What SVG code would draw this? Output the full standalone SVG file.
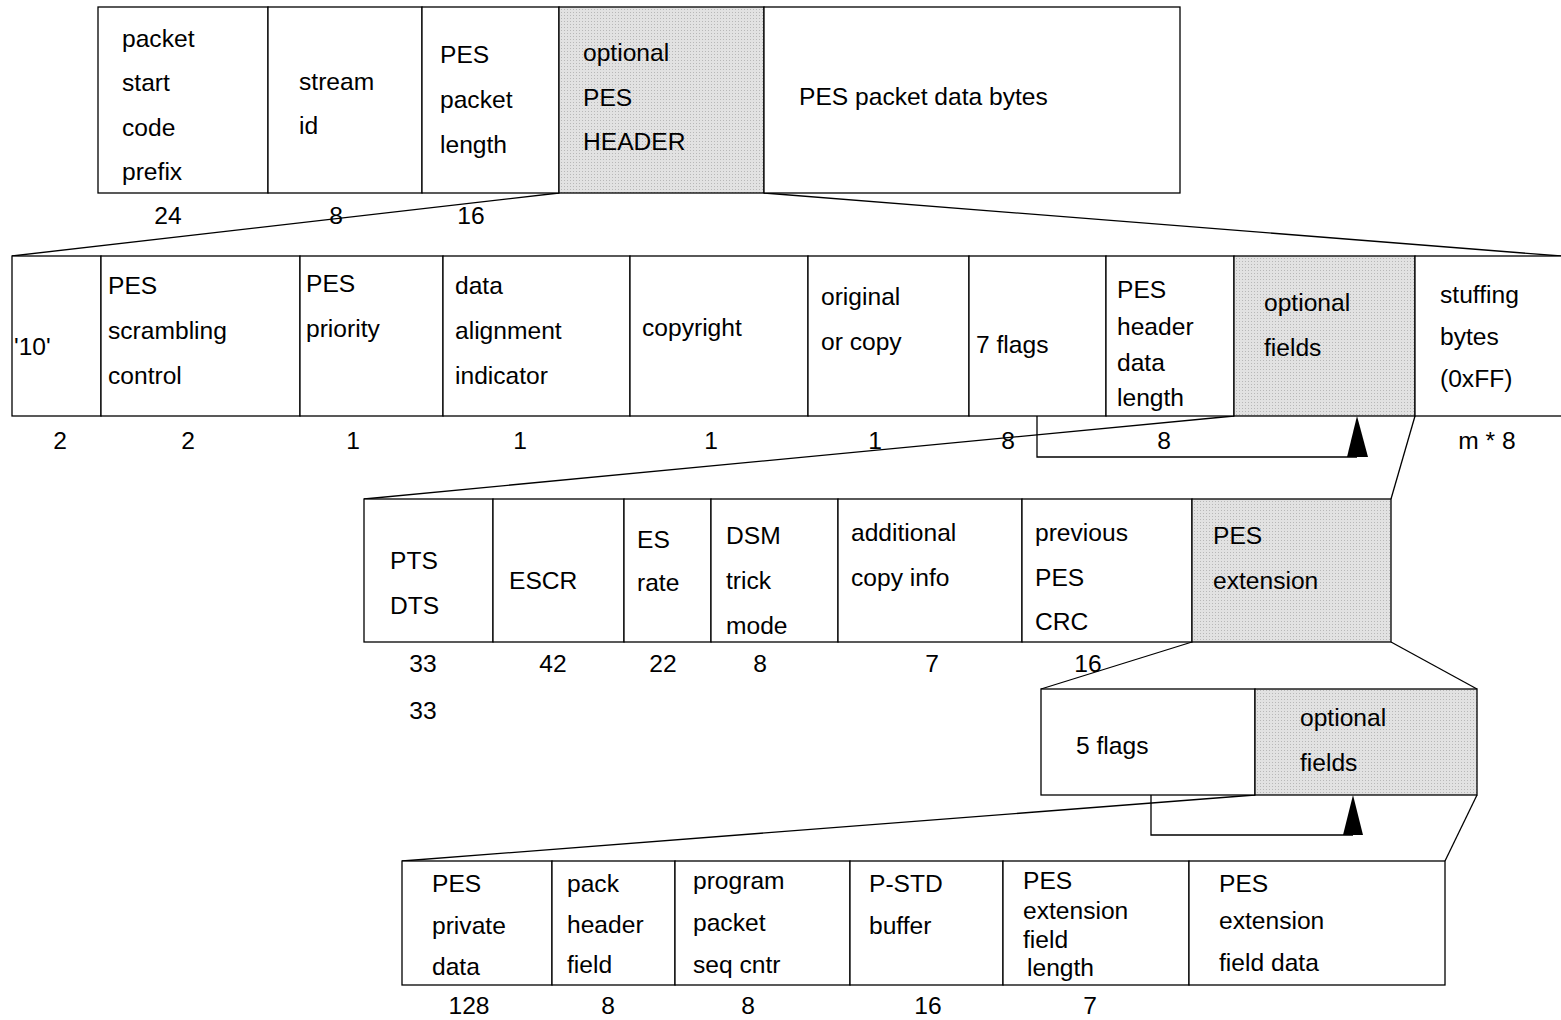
<svg xmlns="http://www.w3.org/2000/svg" width="1561" height="1020" viewBox="0 0 1561 1020">
<defs>
<pattern id="dots" width="3" height="3" patternUnits="userSpaceOnUse">
<rect width="3" height="3" fill="#e2e2e2"/>
<rect width="1" height="1" fill="#b8b8b8"/>
</pattern>
<style>
.c{fill:#fff;stroke:#000;stroke-width:1.3}
.s{fill:url(#dots);stroke:#000;stroke-width:1.3}
text{font-family:"Liberation Sans",Arial,Helvetica,sans-serif;font-size:24.6px;fill:#000}
.n{text-anchor:middle}
.ln{fill:none;stroke:#000;stroke-width:1.3}
.ah{fill:#000;stroke:none}
</style>
</defs>
<rect width="1561" height="1020" fill="#fff"/>

<g id="connectors">
<line class="ln" x1="559" y1="193" x2="12" y2="256"/>
<line class="ln" x1="764" y1="193" x2="1561" y2="256"/>
<line class="ln" x1="1234" y1="416" x2="364" y2="499"/>
<line class="ln" x1="1415" y1="416" x2="1391" y2="499"/>
<line class="ln" x1="1192" y1="642" x2="1041" y2="689"/>
<line class="ln" x1="1391" y1="642" x2="1477" y2="689"/>
<line class="ln" x1="1255" y1="795" x2="402" y2="861"/>
<line class="ln" x1="1477" y1="795" x2="1445" y2="861"/>
<polyline class="ln" points="1037,416 1037,457 1357,457"/>
<polygon class="ah" points="1357,416 1347,457 1368,457"/>
<polyline class="ln" points="1151,795 1151,835 1353,835"/>
<polygon class="ah" points="1353,795 1343,835 1363,835"/>
</g>

<!-- Row 1 -->
<g id="r1-start-code">
<rect class="c" x="98" y="7" width="170" height="186"/>
<text x="122" y="47">packet</text><text x="122" y="91">start</text><text x="122" y="136">code</text><text x="122" y="180">prefix</text>
<text class="n" x="168" y="224">24</text>
</g>
<g id="r1-stream-id">
<rect class="c" x="268" y="7" width="154" height="186"/>
<text x="299" y="90">stream</text><text x="299" y="134">id</text>
<text class="n" x="336" y="224">8</text>
</g>
<g id="r1-pes-length">
<rect class="c" x="422" y="7" width="137" height="186"/>
<text x="440" y="63">PES</text><text x="440" y="108">packet</text><text x="440" y="153">length</text>
<text class="n" x="471" y="224">16</text>
</g>
<g id="r1-optional-header">
<rect class="s" x="559" y="7" width="205" height="186"/>
<text x="583" y="61">optional</text><text x="583" y="106">PES</text><text x="583" y="150">HEADER</text>
</g>
<g id="r1-data-bytes">
<rect class="c" x="764" y="7" width="416" height="186"/>
<text x="799" y="105">PES packet data bytes</text>
</g>

<!-- Row 2 -->
<g id="r2-10">
<rect class="c" x="12" y="256" width="89" height="160"/>
<text x="14" y="355">'10'</text>
<text class="n" x="60" y="449">2</text>
</g>
<g id="r2-scrambling">
<rect class="c" x="101" y="256" width="199" height="160"/>
<text x="108" y="294">PES</text><text x="108" y="339">scrambling</text><text x="108" y="384">control</text>
<text class="n" x="188" y="449">2</text>
</g>
<g id="r2-priority">
<rect class="c" x="300" y="256" width="143" height="160"/>
<text x="306" y="292">PES</text><text x="306" y="337">priority</text>
<text class="n" x="353" y="449">1</text>
</g>
<g id="r2-alignment">
<rect class="c" x="443" y="256" width="187" height="160"/>
<text x="455" y="294">data</text><text x="455" y="339">alignment</text><text x="455" y="384">indicator</text>
<text class="n" x="520" y="449">1</text>
</g>
<g id="r2-copyright">
<rect class="c" x="630" y="256" width="178" height="160"/>
<text x="642" y="336">copyright</text>
<text class="n" x="711" y="449">1</text>
</g>
<g id="r2-original">
<rect class="c" x="808" y="256" width="161" height="160"/>
<text x="821" y="305">original</text><text x="821" y="350">or copy</text>
<text class="n" x="875" y="449">1</text>
</g>
<g id="r2-7flags">
<rect class="c" x="969" y="256" width="137" height="160"/>
<text x="976" y="353">7 flags</text>
<text class="n" x="1008" y="449">8</text>
</g>
<g id="r2-header-length">
<rect class="c" x="1106" y="256" width="128" height="160"/>
<text x="1117" y="298">PES</text><text x="1117" y="335">header</text><text x="1117" y="371">data</text><text x="1117" y="406">length</text>
<text class="n" x="1164" y="449">8</text>
</g>
<g id="r2-optional-fields">
<rect class="s" x="1234" y="256" width="181" height="160"/>
<text x="1264" y="311">optional</text><text x="1264" y="356">fields</text>
</g>
<g id="r2-stuffing">
<rect class="c" x="1415" y="256" width="160" height="160"/>
<text x="1440" y="303">stuffing</text><text x="1440" y="345">bytes</text><text x="1440" y="387">(0xFF)</text>
<text class="n" x="1487" y="449">m * 8</text>
</g>

<!-- Row 3 -->
<g id="r3-pts-dts">
<rect class="c" x="364" y="499" width="129" height="143"/>
<text x="390" y="569">PTS</text><text x="390" y="614">DTS</text>
<text class="n" x="423" y="672">33</text><text class="n" x="423" y="719">33</text>
</g>
<g id="r3-escr">
<rect class="c" x="493" y="499" width="131" height="143"/>
<text x="509" y="589">ESCR</text>
<text class="n" x="553" y="672">42</text>
</g>
<g id="r3-es-rate">
<rect class="c" x="624" y="499" width="87" height="143"/>
<text x="637" y="548">ES</text><text x="637" y="591">rate</text>
<text class="n" x="663" y="672">22</text>
</g>
<g id="r3-dsm">
<rect class="c" x="711" y="499" width="127" height="143"/>
<text x="726" y="544">DSM</text><text x="726" y="589">trick</text><text x="726" y="634">mode</text>
<text class="n" x="760" y="672">8</text>
</g>
<g id="r3-copy-info">
<rect class="c" x="838" y="499" width="184" height="143"/>
<text x="851" y="541">additional</text><text x="851" y="586">copy info</text>
<text class="n" x="932" y="672">7</text>
</g>
<g id="r3-crc">
<rect class="c" x="1022" y="499" width="170" height="143"/>
<text x="1035" y="541">previous</text><text x="1035" y="586">PES</text><text x="1035" y="630">CRC</text>
<text class="n" x="1088" y="672">16</text>
</g>
<g id="r3-pes-extension">
<rect class="s" x="1192" y="499" width="199" height="143"/>
<text x="1213" y="544">PES</text><text x="1213" y="589">extension</text>
</g>

<!-- Row 4 -->
<g id="r4-5flags">
<rect class="c" x="1041" y="689" width="214" height="106"/>
<text x="1076" y="754">5 flags</text>
</g>
<g id="r4-optional-fields">
<rect class="s" x="1255" y="689" width="222" height="106"/>
<text x="1300" y="726">optional</text><text x="1300" y="771">fields</text>
</g>

<!-- Row 5 -->
<g id="r5-private-data">
<rect class="c" x="402" y="861" width="150" height="124"/>
<text x="432" y="892">PES</text><text x="432" y="934">private</text><text x="432" y="975">data</text>
<text class="n" x="469" y="1014">128</text>
</g>
<g id="r5-pack-header">
<rect class="c" x="552" y="861" width="123" height="124"/>
<text x="567" y="892">pack</text><text x="567" y="933">header</text><text x="567" y="973">field</text>
<text class="n" x="608" y="1014">8</text>
</g>
<g id="r5-seq-cntr">
<rect class="c" x="675" y="861" width="175" height="124"/>
<text x="693" y="889">program</text><text x="693" y="931">packet</text><text x="693" y="973">seq cntr</text>
<text class="n" x="748" y="1014">8</text>
</g>
<g id="r5-pstd">
<rect class="c" x="850" y="861" width="153" height="124"/>
<text x="869" y="892">P-STD</text><text x="869" y="934">buffer</text>
<text class="n" x="928" y="1014">16</text>
</g>
<g id="r5-ext-length">
<rect class="c" x="1003" y="861" width="186" height="124"/>
<text x="1023" y="889">PES</text><text x="1023" y="919">extension</text><text x="1023" y="948">field</text><text x="1027" y="976">length</text>
<text class="n" x="1090" y="1014">7</text>
</g>
<g id="r5-ext-data">
<rect class="c" x="1189" y="861" width="256" height="124"/>
<text x="1219" y="892">PES</text><text x="1219" y="929">extension</text><text x="1219" y="971">field data</text>
</g>
</svg>
